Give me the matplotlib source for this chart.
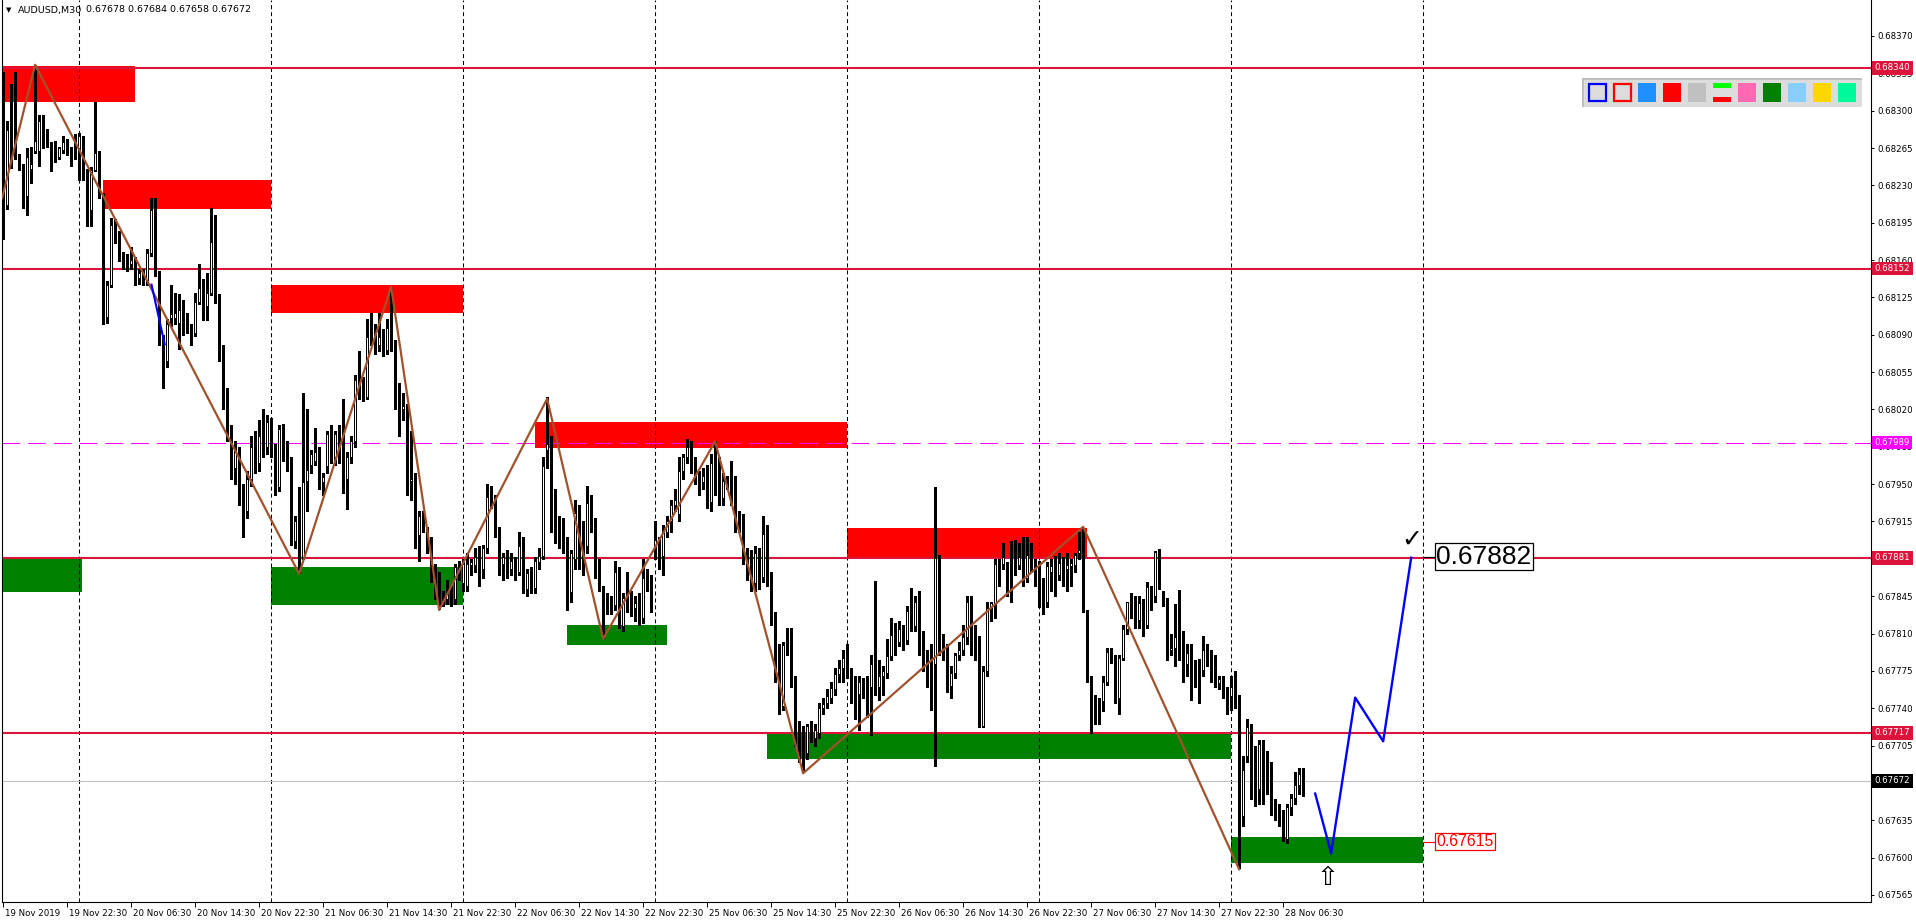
import numpy as np
import matplotlib
matplotlib.use("Agg")
import matplotlib.pyplot as plt
from matplotlib.patches import Rectangle
from matplotlib.transforms import ScaledTranslation, blended_transform_factory

plt.rcParams['font.family'] = ['DejaVu Sans']

# prices are stored as points (1e-5) above 0.67000
BASE = 0.67

# AUDUSD M30 bars, bar 0 = 19 Nov 14:30
open_pts = [
    1240, 1212, 1284, 1276, 1257, 1248, 1220, 1245, 1262, 1262,
    1288, 1279, 1268, 1262, 1257, 1263, 1271, 1263, 1276, 1265,
    1255, 1241, 1207, 1244, 1260, 1221, 1107, 1137, 1195, 1184,
    1162, 1162, 1156, 1159, 1143, 1148, 1140, 1167, 1210, 1148,
    1086, 1065, 1106, 1106, 1101, 1115, 1106, 1098, 1092, 1121,
    1132, 1117, 1129, 1184, 1125, 1075, 1030, 1000, 965, 980,
    940, 925, 955, 985, 970, 995, 985, 1008, 983, 947,
    1003, 973, 962, 897, 915, 882, 953, 968, 972, 975,
    952, 967, 998, 975, 1001, 973, 955, 975, 990, 1048,
    1042, 1032, 1090, 1088, 1080, 1086, 1076, 1096, 1078, 1040,
    1020, 1021, 953, 955, 902, 920, 903, 895, 868, 865,
    847, 842, 847, 842, 868, 857, 855, 874, 874, 887,
    870, 890, 938, 933, 905, 875, 882, 870, 878, 868,
    892, 852, 868, 853, 877, 883, 982, 990, 915, 915,
    908, 897, 849, 880, 923, 908, 892, 933, 912, 872,
    853, 843, 836, 837, 867, 817, 847, 837, 834, 840,
    825, 860, 860, 890, 893, 883, 905, 915, 930, 922,
    962, 975, 985, 968, 957, 952, 960, 933, 970, 970,
    937, 952, 953, 953, 920, 917, 884, 883, 857, 885,
    863, 907, 863, 825, 790, 742, 799, 798, 765, 711,
    705, 698, 723, 712, 717, 740, 745, 750, 758, 772,
    778, 787, 770, 764, 753, 763, 762, 760, 779, 760,
    770, 773, 789, 812, 802, 814, 804, 834, 817, 840,
    796, 792, 781, 781, 881, 793, 796, 761, 773, 790,
    795, 807, 840, 804, 806, 723, 775, 834, 837, 875,
    875, 868, 882, 882, 874, 882, 862, 884, 873, 873,
    860, 840, 868, 876, 865, 872, 870, 873, 874, 885,
    888, 830, 764, 747, 747, 747, 765, 792, 786, 750,
    787, 814, 840, 836, 823, 837, 818, 853, 845, 886,
    848, 840, 795, 796, 807, 801, 781, 793, 781, 778,
    776, 795, 787, 778, 764, 765, 758, 751, 767, 749,
    639, 695, 722, 681, 664, 706, 689, 668, 648, 640,
    638, 617, 647, 656, 668, 678,
]
high_pts = [
    1336, 1290, 1325, 1336, 1259, 1250, 1265, 1266, 1343, 1296,
    1296, 1283, 1271, 1272, 1266, 1276, 1273, 1266, 1278, 1279,
    1276, 1245, 1247, 1308, 1262, 1223, 1140, 1199, 1198, 1187,
    1168, 1166, 1172, 1163, 1152, 1152, 1170, 1218, 1218, 1150,
    1090, 1105, 1137, 1129, 1128, 1123, 1110, 1100, 1129, 1156,
    1142, 1148, 1209, 1202, 1128, 1080, 1040, 1005, 990, 985,
    950, 962, 995, 1000, 1010, 1020, 1015, 1012, 988, 1005,
    1006, 990, 975, 920, 947, 1035, 1020, 982, 1003, 985,
    960, 1000, 1005, 1000, 1005, 1030, 980, 995, 1052, 1075,
    1050, 1105, 1110, 1100, 1110, 1095, 1105, 1133, 1085, 1045,
    1035, 1025, 1000, 960, 925, 925, 910, 900, 875, 868,
    850, 860, 855, 875, 878, 880, 885, 880, 890, 892,
    893, 950, 948, 940, 910, 885, 888, 885, 882, 905,
    900, 870, 872, 882, 890, 975, 1032, 995, 945, 920,
    918, 900, 888, 935, 930, 915, 948, 940, 918, 880,
    855, 848, 845, 878, 872, 848, 868, 850, 845, 848,
    880, 870, 865, 915, 900, 912, 920, 935, 945, 975,
    978, 992, 990, 975, 962, 965, 968, 978, 990, 975,
    960, 958, 972, 958, 925, 922, 890, 888, 892, 890,
    920, 912, 868, 830, 800, 802, 815, 815, 770, 728,
    723, 725, 728, 725, 745, 750, 758, 765, 778, 785,
    795, 800, 778, 770, 770, 768, 770, 790, 859, 785,
    780, 805, 825, 820, 822, 818, 836, 853, 845, 850,
    812, 795, 800, 947, 884, 810, 800, 780, 792, 802,
    818, 845, 845, 818, 808, 780, 840, 840, 880, 880,
    895, 877, 897, 898, 895, 900, 900, 895, 880, 878,
    862, 877, 880, 883, 885, 882, 885, 880, 885, 905,
    909, 832, 770, 752, 750, 770, 796, 796, 790, 790,
    818, 840, 848, 845, 845, 842, 858, 855, 887, 889,
    850, 843, 810, 838, 851, 812, 800, 800, 785, 786,
    808, 800, 795, 790, 770, 770, 760, 770, 775, 752,
    695, 730, 725, 705, 710, 710, 700, 690, 655, 650,
    645, 650, 660, 680, 684, 684,
]
low_pts = [
    1180, 1208, 1246, 1255, 1244, 1209, 1202, 1232, 1260, 1248,
    1265, 1266, 1243, 1252, 1255, 1260, 1258, 1248, 1255, 1235,
    1235, 1192, 1192, 1243, 1218, 1100, 1101, 1135, 1176, 1159,
    1152, 1150, 1152, 1137, 1138, 1137, 1137, 1164, 1145, 1080,
    1040, 1060, 1098, 1100, 1077, 1090, 1092, 1080, 1089, 1119,
    1104, 1104, 1127, 1120, 1065, 1020, 990, 955, 950, 930,
    900, 918, 948, 960, 962, 975, 978, 975, 940, 944,
    972, 962, 893, 890, 867, 880, 925, 960, 968, 945,
    940, 960, 970, 968, 970, 942, 927, 970, 985, 1030,
    1028, 1030, 1080, 1072, 1075, 1070, 1072, 1075, 1020, 995,
    1010, 940, 935, 890, 878, 905, 885, 858, 842, 833,
    836, 838, 836, 838, 860, 850, 850, 865, 868, 855,
    862, 885, 928, 900, 865, 860, 862, 865, 860, 865,
    848, 845, 848, 848, 870, 880, 965, 905, 895, 890,
    885, 832, 840, 870, 870, 865, 885, 905, 862, 850,
    806, 828, 828, 832, 815, 812, 830, 826, 822, 818,
    820, 850, 830, 880, 870, 865, 900, 905, 925, 915,
    955, 970, 960, 950, 940, 945, 928, 925, 940, 930,
    930, 945, 930, 905, 905, 875, 860, 850, 850, 852,
    858, 855, 818, 765, 735, 738, 790, 760, 705, 690,
    680, 692, 708, 705, 712, 735, 740, 745, 752, 765,
    765, 768, 745, 730, 720, 750, 732, 715, 752, 748,
    752, 768, 785, 790, 798, 795, 800, 812, 812, 790,
    775, 760, 738, 686, 790, 785, 755, 750, 768, 785,
    790, 800, 790, 785, 722, 722, 770, 822, 825, 855,
    870, 845, 840, 865, 870, 855, 858, 868, 855, 835,
    828, 835, 850, 845, 860, 855, 850, 855, 868, 880,
    830, 765, 717, 725, 725, 737, 762, 782, 745, 735,
    785, 810, 825, 815, 815, 808, 815, 832, 840, 852,
    836, 785, 790, 780, 785, 765, 770, 748, 760, 745,
    770, 780, 765, 760, 758, 750, 735, 738, 740, 590,
    630, 690, 655, 648, 650, 650, 660, 640, 635, 630,
    616, 614, 640, 650, 660, 658,
]
close_pts = [
    1186, 1282, 1282, 1258, 1246, 1216, 1257, 1250, 1272, 1290,
    1279, 1268, 1260, 1254, 1265, 1271, 1263, 1256, 1260, 1276,
    1244, 1207, 1244, 1260, 1221, 1107, 1137, 1193, 1184, 1166,
    1160, 1157, 1160, 1145, 1148, 1140, 1167, 1207, 1148, 1084,
    1065, 1100, 1109, 1110, 1113, 1106, 1098, 1092, 1121, 1134,
    1117, 1129, 1177, 1125, 1075, 1030, 1000, 965, 980, 940,
    925, 955, 985, 970, 995, 985, 1008, 980, 942, 1002,
    977, 967, 897, 915, 882, 952, 963, 978, 980, 950,
    957, 997, 977, 997, 975, 955, 975, 990, 1048, 1035,
    1032, 1088, 1085, 1080, 1088, 1076, 1096, 1081, 1038, 1018,
    1023, 947, 955, 902, 920, 912, 890, 862, 848, 842,
    842, 847, 840, 872, 872, 875, 875, 877, 882, 870,
    890, 938, 932, 905, 875, 882, 868, 878, 868, 892,
    852, 867, 853, 878, 883, 967, 988, 908, 907, 905,
    895, 849, 885, 923, 882, 878, 932, 912, 872, 853,
    847, 833, 834, 868, 817, 843, 835, 834, 839, 825,
    862, 853, 832, 898, 882, 905, 915, 930, 935, 962,
    975, 985, 967, 955, 947, 958, 933, 970, 948, 937,
    953, 953, 935, 915, 912, 882, 867, 857, 885, 858,
    903, 863, 825, 770, 742, 799, 798, 765, 711, 705,
    694, 723, 712, 720, 740, 744, 751, 759, 772, 778,
    787, 773, 762, 753, 765, 762, 760, 781, 758, 770,
    775, 789, 809, 801, 814, 804, 831, 818, 840, 795,
    781, 781, 782, 881, 792, 790, 761, 773, 790, 795,
    807, 840, 800, 800, 729, 775, 834, 839, 875, 876,
    882, 848, 842, 873, 882, 862, 884, 873, 862, 858,
    840, 873, 873, 865, 876, 870, 874, 876, 884, 888,
    830, 770, 750, 745, 745, 765, 793, 786, 750, 787,
    814, 840, 832, 822, 839, 817, 854, 845, 886, 854,
    840, 795, 796, 807, 798, 781, 792, 775, 767, 768,
    795, 786, 772, 764, 767, 758, 751, 760, 745, 639,
    682, 722, 672, 664, 706, 692, 670, 648, 640, 637,
    618, 647, 656, 668, 678, 672,
]

# horizontal levels
red_levels = [0.68340, 0.68152, 0.67881, 0.67717]
pink_level = 0.67989
bid_price = 0.67672

# supply (red) and demand (green) boxes: bar from, bar to, low pts, high pts
supply_x0 = [-1, 25, 67, 133, 211]
supply_x1 = [33, 67, 115, 211, 271]
supply_lo = [1308, 1208, 1110, 984, 882]
supply_hi = [1342, 1235, 1137, 1008, 909]
demand_x0 = [-1, 67, 141, 191, 307]
demand_x1 = [19.7, 115, 166, 307, 355]
demand_lo = [849, 837, 799, 692, 595]
demand_hi = [881, 872, 818, 716, 619]

# zigzag swing points
zig_bars = [-0.25, 8, 74, 97, 109, 136, 150, 178, 200, 270, 309]
zig_pts = [1218, 1343, 866, 1135, 832, 1030, 805, 990, 679, 910, 589]

# blue projected path and a small blue stroke
proj_bars = [328, 332, 338, 345, 352]
proj_pts = [660, 604, 750, 709, 881]
stroke_bars = [37.1, 40.4]
stroke_pts = [1137, 1081]

target_top = 0.67882
target_low = 0.67615

# day separators (first bar of each day)
day_bars = [19, 67, 115, 163, 211, 259, 307, 355]

x_tick_bars = [0, 16, 32, 48, 64, 80, 96, 112, 128, 144, 160,
               176, 192, 208, 224, 240, 256, 272, 288, 304, 320]
x_tick_labels = ["19 Nov 2019", "19 Nov 22:30", "20 Nov 06:30", "20 Nov 14:30",
                 "20 Nov 22:30", "21 Nov 06:30", "21 Nov 14:30", "21 Nov 22:30",
                 "22 Nov 06:30", "22 Nov 14:30", "22 Nov 22:30", "25 Nov 06:30",
                 "25 Nov 14:30", "25 Nov 22:30", "26 Nov 06:30", "26 Nov 14:30",
                 "26 Nov 22:30", "27 Nov 06:30", "27 Nov 14:30", "27 Nov 22:30",
                 "28 Nov 06:30"]
y_ticks = [0.67565, 0.67600, 0.67635, 0.67670, 0.67705, 0.67740, 0.67775, 0.67810,
           0.67845, 0.67880, 0.67915, 0.67950, 0.67985, 0.68020, 0.68055, 0.68090,
           0.68125, 0.68160, 0.68195, 0.68230, 0.68265, 0.68300, 0.68335, 0.68370]

palette_colors = ['#1E90FF', '#FF0000', '#C0C0C0', None, '#FF69B4',
                  '#008000', '#87CEFA', '#FFD700', '#00FA9A']


def pr(v):
    return BASE + np.asarray(v, dtype=float) / 1e5


W, H = 1916, 923
fig = plt.figure(figsize=(W / 100, H / 100), dpi=100)
ax = fig.add_axes([2 / W, 21 / H, 1869 / W, 902 / H])
ax.set_xlim(-0.275, 466.95)
ax.set_ylim(0.675584, 0.684037)

o = pr(open_pts)
h = pr(high_pts)
l = pr(low_pts)
c = pr(close_pts)
x = np.arange(len(c))

# zones
for x0, x1, lo, hi in zip(supply_x0, supply_x1, supply_lo, supply_hi):
    ax.add_patch(Rectangle((x0, pr(lo)), x1 - x0, pr(hi) - pr(lo),
                           fc='#FF0000', ec='none', zorder=1))
for x0, x1, lo, hi in zip(demand_x0, demand_x1, demand_lo, demand_hi):
    ax.add_patch(Rectangle((x0, pr(lo)), x1 - x0, pr(hi) - pr(lo),
                           fc='#008000', ec='none', zorder=1))

# day separators
for b in day_bars:
    ax.axvline(b, color='black', lw=0.75, ls=(0, (3.8, 2.9)), zorder=1.5)

# levels
for lv in red_levels:
    ax.axhline(lv, color='#DC143C', lw=1.5, zorder=2)
ax.axhline(pink_level, color='#FF00FF', lw=0.75, ls=(0, (17, 7.7)), zorder=2)
ax.axhline(bid_price, color='#C0C0C0', lw=0.75, zorder=1.8)

# candles
up = c >= o
ax.vlines(x, l, h, color='black', lw=0.75, zorder=3, antialiased=False)
body = np.maximum(np.abs(c - o), 0.000012)
ax.bar(x, body, bottom=np.minimum(o, c), width=0.5,
       color=np.where(up, 'white', 'black'), edgecolor='black',
       linewidth=0.72, zorder=4, antialiased=False)

# zigzag and projection
ax.plot(zig_bars, pr(zig_pts), color='#A0522D', lw=1.6, zorder=5)
ax.plot(stroke_bars, pr(stroke_pts), color='#0000FF', lw=1.5, zorder=5)
ax.plot(proj_bars, pr(proj_pts), color='#0000FF', lw=1.7, zorder=5)

# labels of targets
ax.plot([355, 357.9], [target_top, target_top], color='black', lw=0.8, zorder=6)
ax.text(358.3, target_top, f"{target_top:.5f}", fontsize=19, family='Liberation Sans',
        ha='left', va='center', zorder=7,
        bbox=dict(boxstyle='square,pad=0.06', fc='white', ec='black', lw=0.9))
ax.plot([355, 357.9], [target_low, target_low], color='#FF0000', lw=0.8, zorder=6)
ax.text(358.3, target_low, f"{target_low:.5f}", fontsize=11.4, family='Liberation Sans',
        color='#FF0000', ha='left', va='center', zorder=7,
        bbox=dict(boxstyle='square,pad=0.08', fc='white', ec='#FF0000', lw=0.9))
ax.text(352.2, pr(898), "\u2713", fontsize=18, ha='center', va='center', zorder=7)
ax.text(331, pr(581), "\u21e7", fontsize=19, ha='center', va='center', zorder=7)

# axes styling
ax.spines['top'].set_visible(False)
for s in ['left', 'right', 'bottom']:
    ax.spines[s].set_linewidth(0.8)
ax.yaxis.tick_right()
ax.set_yticks(y_ticks)
ax.set_yticklabels([f"{v:.5f}" for v in y_ticks])
ax.tick_params(axis='y', direction='out', length=2.5, width=0.7, pad=2, labelsize=6.2)
ax.set_xticks(x_tick_bars)
ax.set_xticklabels(x_tick_labels)
ax.tick_params(axis='x', direction='out', length=3.5, width=0.7, pad=1.5, labelsize=6.2)
shift = ScaledTranslation(1.5 / 100, 0, fig.dpi_scale_trans)
for lbl in ax.get_xticklabels():
    lbl.set_horizontalalignment('left')
    lbl.set_transform(lbl.get_transform() + shift)

# coloured price labels on the scale
tr = blended_transform_factory(ax.transAxes, ax.transData) + \
    ScaledTranslation(3.5 / 100, 0, fig.dpi_scale_trans)
scale_tags = [(lv, '#DC143C') for lv in red_levels] + \
    [(pink_level, '#FF00FF'), (bid_price, '#000000')]
for lv, col in scale_tags:
    ax.text(1.0, lv, f"{lv:.5f}", transform=tr, fontsize=6.2, color='white',
            ha='left', va='center', zorder=10, clip_on=False,
            bbox=dict(boxstyle='square,pad=0.28', fc=col, ec='none'))

# title
fig.text(6 / W, 1 - 10 / H, "\u25bc", fontsize=5, va='center')
fig.text(18 / W, 1 - 10 / H, "AUDUSD,M30", fontsize=6.8, va='center')
fig.text(86 / W, 1 - 10 / H, "0.67678 0.67684 0.67658 0.67672", fontsize=6.8, va='center')


# colour palette panel (screen pixels)
def fig_rect(px, py, pw, ph, **kw):
    fig.add_artist(Rectangle((px / W, 1 - (py + ph) / H), pw / W, ph / H,
                             transform=fig.transFigure, **kw))


fig_rect(1582, 78, 280, 29, fc='#DCDCDC', ec='none')
fig_rect(1582, 78, 280, 2, fc='#BEBEBE', ec='none')
fig_rect(1582, 78, 2, 29, fc='#BEBEBE', ec='none')
fig_rect(1588.5, 84, 17, 17, fc='none', ec='#0000FF', lw=1.6)
fig_rect(1613.5, 84, 17, 17, fc='none', ec='#FF0000', lw=1.6)
for k, col in enumerate(palette_colors):
    px = 1638 + 25 * k
    if col is None:
        fig_rect(px, 83.5, 18, 4, fc='#00FF00', ec='none')
        fig_rect(px, 97.5, 18, 4, fc='#FF0000', ec='none')
    else:
        fig_rect(px, 83.5, 18, 18, fc=col, ec='none')

fig.savefig("out.png", dpi=100, facecolor='white')
